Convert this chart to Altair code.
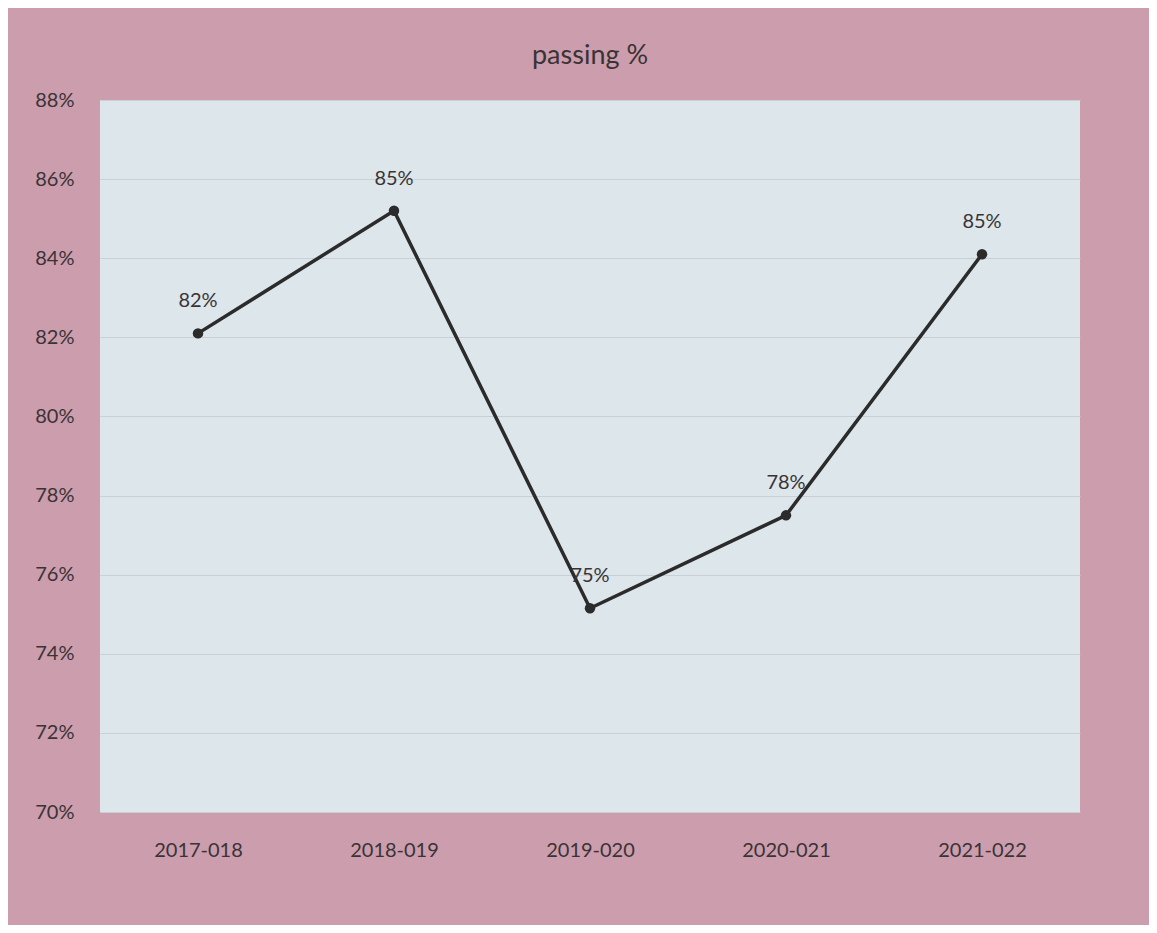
import altair as alt
import pandas as pd

years = ["2017-018", "2018-019", "2019-020", "2020-021", "2021-022"]
passing = [82.1, 85.2, 75.15, 77.5, 84.1]
labels = ["82%", "85%", "75%", "78%", "85%"]
y_ticks = [70, 72, 74, 76, 78, 80, 82, 84, 86, 88]

df = pd.DataFrame({"year": years, "passing": passing, "label": labels})

FONT = "Lato"
TXT = "#3a3336"

x = alt.X("year:N", sort=years, title=None,
          scale=alt.Scale(paddingOuter=0.5),
          axis=alt.Axis(labelAngle=0, domain=False, ticks=False, labelPadding=28,
                        labelFont=FONT, labelFontSize=20, labelColor=TXT))
y = alt.Y("passing:Q", title=None,
          scale=alt.Scale(domain=[70, 88], nice=False, zero=False),
          axis=alt.Axis(values=y_ticks, labelExpr="datum.value + '%'", domain=False, ticks=False,
                        labelPadding=26, labelFont=FONT, labelFontSize=20, labelColor=TXT,
                        grid=True, gridColor="#c9cfd3", gridWidth=1))

base = alt.Chart(df)
line = base.mark_line(color="#2b2b2b", strokeWidth=3.5).encode(x=x, y=y)
pts = base.mark_point(filled=True, color="#2b2b2b", size=110, opacity=1).encode(x=x, y=y)
txt = base.mark_text(dy=-32, font=FONT, fontSize=20, color=TXT).encode(x=x, y=y, text="label:N")

chart = (line + pts + txt).properties(
    width=980, height=712,
    title=alt.TitleParams("passing %", font=FONT, fontSize=27, fontWeight="normal", color=TXT, offset=20),
    autosize=alt.AutoSizeParams(type="none"),
    padding={"left": 92, "top": 92, "right": 69, "bottom": 113},
    background="#cc9dac",
).configure_view(fill="#dde6ea", stroke=None)

chart.save("out.html", embed_options={"renderer": "svg", "actions": False})
